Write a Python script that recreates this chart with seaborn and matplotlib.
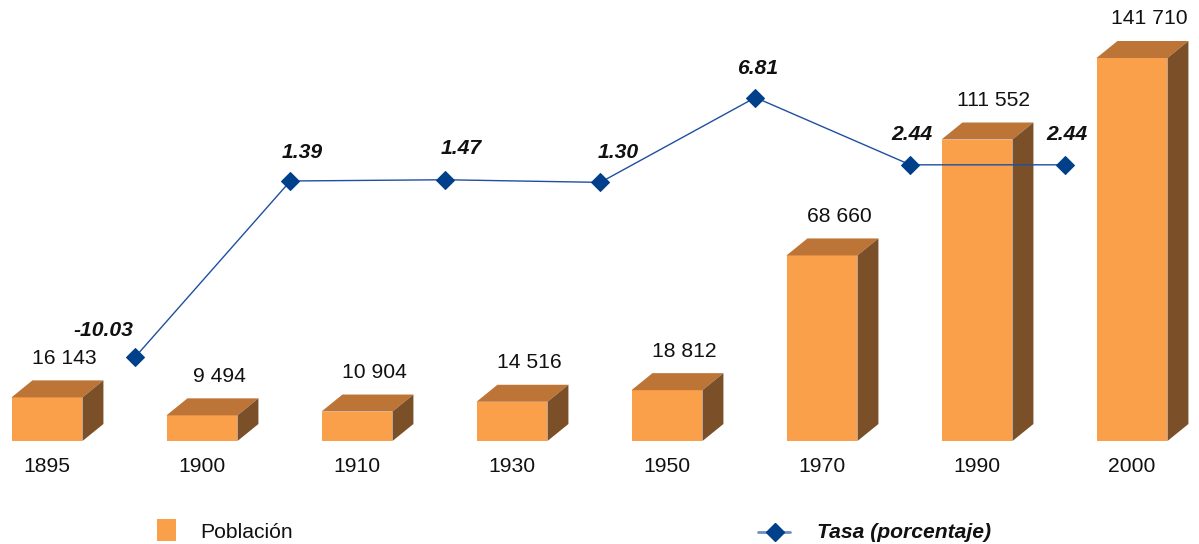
import numpy as np
import matplotlib
matplotlib.use("Agg")
import matplotlib.pyplot as plt
from matplotlib.patches import Polygon, Rectangle
from matplotlib.lines import Line2D
import pandas as pd
import seaborn as sns

# data
years = ["1895", "1900", "1910", "1930", "1950", "1970", "1990", "2000"]
poblacion = [16143, 9494, 10904, 14516, 18812, 68660, 111552, 141710]
tasa = [-10.03, 1.39, 1.47, 1.30, 6.81, 2.44, 2.44]

# style
front_c = "#FA9F4A"
top_c = "#BC7536"
side_c = "#7B4F27"
line_c = "#1F4F9E"
mark_c = "#003F8A"
fs = 15.2
bar_w = 0.458
dx, dy_px = 0.135, 17           # depth of the fake 3d boxes
line_shift = 0.57               # line points sit between the categories
# label offsets for the rate labels (pixels)
tasa_off = [(-32, 26), (12, 28), (16, 31), (18, 30), (2, 29), (2, 30), (2, 30)]

sns.set_theme(style="white")
plt.rcParams["font.family"] = ["Liberation Sans", "DejaVu Sans"]

fig = plt.figure(figsize=(11.99, 5.44), dpi=100)
ax = fig.add_axes([0, 0, 1, 1])
px_per_unit = 383 / 141710
dy = dy_px / px_per_unit

df = pd.DataFrame({"year": years, "poblacion": poblacion})
sns.barplot(data=df, x="year", y="poblacion", color=front_c, width=bar_w,
            saturation=1, linewidth=0, edgecolor="none", ax=ax, zorder=2)
ax.set_xlim(-47 / 155, (1199 - 47) / 155)
ax.set_ylim(-103 / px_per_unit, (544 - 103) / px_per_unit)

for i, v in enumerate(poblacion):
    x0, x1 = i - bar_w / 2, i + bar_w / 2
    top = Polygon([(x0, v), (x1, v), (x1 + dx, v + dy), (x0 + dx, v + dy)],
                  closed=True, facecolor=top_c, edgecolor="none", zorder=2)
    side = Polygon([(x1, 0), (x1 + dx, dy), (x1 + dx, v + dy), (x1, v)],
                   closed=True, facecolor=side_c, edgecolor="none", zorder=2)
    ax.add_patch(top)
    ax.add_patch(side)
    ax.annotate(f"{v:,}".replace(",", " "), (i + 0.11, v + dy),
                xytext=(0, 22), textcoords="offset pixels",
                ha="center", va="center", fontsize=fs, color="#111111")

ax.set_xticks([])
ax.set_yticks([])
ax.set_xlabel("")
ax.set_ylabel("")
for s in ax.spines.values():
    s.set_visible(False)
ax.patch.set_alpha(0)

# year labels below the baseline
for i, y in enumerate(years):
    ax.annotate(y, (i, 0), xytext=(0, -25), textcoords="offset pixels",
                ha="center", va="center", fontsize=fs, color="#111111")

# rate line on its own axis
ax2 = ax.twinx()
lx = np.arange(len(tasa)) + line_shift
ldf = pd.DataFrame({"x": lx, "tasa": tasa})
sns.lineplot(data=ldf, x="x", y="tasa", ax=ax2, color=line_c, lw=1,
             marker="D", markersize=9, markerfacecolor=mark_c,
             markeredgecolor=mark_c, zorder=3)
y0 = 202.4
ppu = 15.4
ax2.set_ylim(-(544 - y0) / ppu, y0 / ppu)
ax2.set_xlim(ax.get_xlim())
for (x, t), (ox, oy) in zip(zip(lx, tasa), tasa_off):
    ax2.annotate(f"{t:.2f}", (x, t), xytext=(ox, oy), textcoords="offset pixels",
                 ha="center", va="center", fontsize=fs, fontweight="bold",
                 fontstyle="italic", color="#111111")
ax2.set_yticks([])
ax2.set_xticks([])
ax2.set_xlabel("")
ax2.set_ylabel("")
for s in ax2.spines.values():
    s.set_visible(False)

# legend at the bottom
fig.patches.append(Rectangle((157 / 1199, 3 / 544), 19 / 1199, 22 / 544,
                             transform=fig.transFigure, facecolor=front_c,
                             edgecolor="none"))
fig.text(200 / 1199, 12 / 544, "Población", fontsize=fs, va="center",
         color="#111111")
fig.lines.append(Line2D([758 / 1199, 790 / 1199], [12 / 544, 12 / 544],
                        transform=fig.transFigure, color="#6F8FC0", lw=2))
fig.lines.append(Line2D([775 / 1199], [12 / 544], transform=fig.transFigure,
                        marker="D", markersize=9, color=mark_c, lw=0))
fig.text(817 / 1199, 12 / 544, "Tasa (porcentaje)", fontsize=fs, va="center",
         fontweight="bold", fontstyle="italic", color="#111111")

fig.savefig("out.png", dpi=100, facecolor="white")
